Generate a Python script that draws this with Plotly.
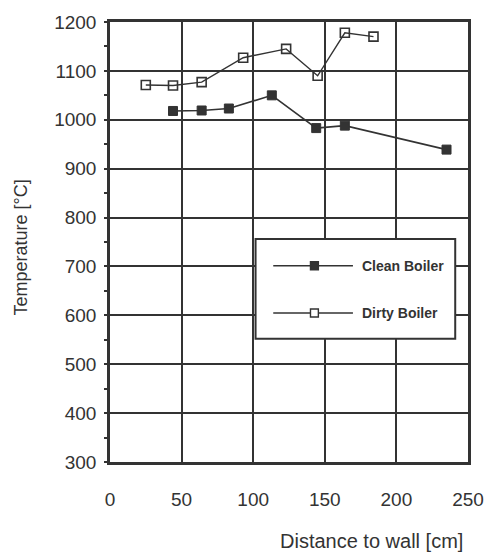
import plotly.graph_objects as go

# Data
clean_x = [44, 64, 83, 113, 144, 164, 235]
clean_y = [1018, 1019, 1023, 1050, 983, 988, 939]
dirty_x = [25, 44, 64, 93, 123, 145, 164, 184]
dirty_y = [1071, 1070, 1077, 1127, 1145, 1090, 1178, 1170]
x_ticks = [0, 50, 100, 150, 200, 250]
y_ticks = [300, 400, 500, 600, 700, 800, 900, 1000, 1100, 1200]
series_names = ["Clean Boiler", "Dirty Boiler"]

ink = "#333333"
font = "Liberation Sans, Arial, sans-serif"

fig = go.Figure()
fig.add_trace(go.Scatter(
    x=clean_x, y=clean_y, mode="lines+markers", name=series_names[0],
    line=dict(color=ink, width=1.6),
    marker=dict(symbol="square", size=9, color=ink, line=dict(color=ink, width=1)),
    showlegend=False))
fig.add_trace(go.Scatter(
    x=dirty_x, y=dirty_y, mode="lines+markers", name=series_names[1],
    line=dict(color=ink, width=1.4),
    marker=dict(symbol="square-open", size=9, color=ink, line=dict(color=ink, width=1.6)),
    showlegend=False))

# Manual legend (box, line samples, labels)
lx0, lx1 = 0.4066, 0.9643
ly0, ly1 = 0.2803, 0.5067
fig.add_shape(type="rect", xref="paper", yref="paper", x0=lx0, x1=lx1, y0=ly0, y1=ly1,
              line=dict(color=ink, width=2), fillcolor="white", layer="above")
for yy, nm, filled in [(0.446, series_names[0], True), (0.3386, series_names[1], False)]:
    fig.add_shape(type="line", xref="paper", yref="paper", x0=0.456, x1=0.6786, y0=yy, y1=yy,
                  line=dict(color=ink, width=1.4), layer="above")
    fig.add_shape(type="rect", xref="paper", yref="paper",
                  x0=0.571 - 0.011, x1=0.571 + 0.011, y0=yy - 0.009, y1=yy + 0.009,
                  line=dict(color=ink, width=1.4),
                  fillcolor=ink if filled else "white", layer="above")
    fig.add_annotation(text="<b>" + nm + "</b>", xref="paper", yref="paper", x=0.698, y=yy,
                       xanchor="left", yanchor="middle", showarrow=False,
                       font=dict(family=font, size=14, color=ink))

# Axis titles
fig.add_annotation(text="Distance to wall [cm]", xref="paper", yref="paper",
                   x=0.992, y=-0.179, xanchor="right", yanchor="middle", showarrow=False,
                   font=dict(family=font, size=20, color=ink))
fig.add_annotation(text="Temperature [°C]", xref="paper", yref="paper",
                   x=-0.25, y=0.4865, xanchor="center", yanchor="middle", showarrow=False,
                   textangle=-90, font=dict(family=font, size=18, color=ink))

fig.update_xaxes(range=[0, 250], tickvals=x_ticks, showgrid=True, gridcolor=ink, gridwidth=1.6,
                 showline=True, linecolor=ink, linewidth=2.5, mirror=True, zeroline=False,
                 ticks="", ticklabelstandoff=18,
                 tickfont=dict(family=font, size=19, color=ink))
fig.update_yaxes(range=[300, 1200], tickvals=y_ticks, showgrid=True, gridcolor=ink, gridwidth=1.6,
                 showline=True, linecolor=ink, linewidth=2.5, mirror=True, zeroline=False,
                 ticks="outside", ticklen=3, tickcolor=ink, tickwidth=1.5,
                 minor=dict(dtick=50, ticks="outside", ticklen=3, tickcolor=ink, showgrid=False),
                 ticklabelstandoff=4,
                 tickfont=dict(family=font, size=19, color=ink))

fig.update_layout(width=496, height=553, margin=dict(l=110, r=22, t=16, b=91),
                  paper_bgcolor="white", plot_bgcolor="white", showlegend=False)

fig.write_html("out.html")
